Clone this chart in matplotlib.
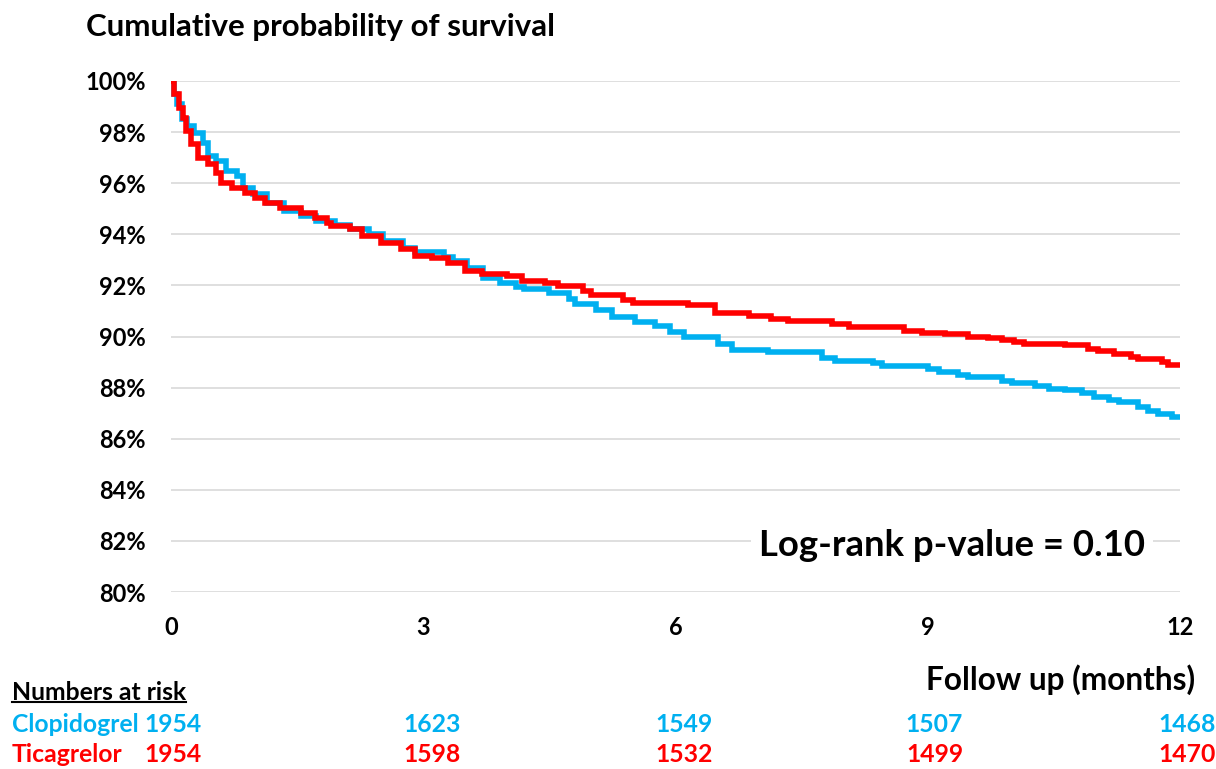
import matplotlib
matplotlib.use("Agg")
import matplotlib.pyplot as plt
from matplotlib.ticker import FuncFormatter
from matplotlib.lines import Line2D
import matplotlib.transforms as mtransforms

# Survival curves (months, % surviving; step starts)
clopi_t = [0, 0.03, 0.07, 0.13, 0.19, 0.27, 0.38, 0.44, 0.54, 0.66, 0.78, 0.86, 0.98,
           1.14, 1.34, 1.55, 1.73, 1.95, 2.13, 2.35, 2.52, 2.76, 2.9, 3.25, 3.35, 3.52,
           3.71, 3.91, 4.1, 4.2, 4.5, 4.73, 4.8, 5.05, 5.24, 5.52, 5.76, 5.93, 6.1, 6.5,
           6.67, 7.1, 7.74, 7.9, 8.35, 8.45, 9.0, 9.13, 9.36, 9.48, 9.88, 10.0, 10.27,
           10.44, 10.63, 10.83, 10.98, 11.15, 11.27, 11.5, 11.62, 11.74, 11.9, 12.0]
clopi_s = [100, 99.5, 99.1, 98.5, 98.24, 97.98, 97.58, 97.06, 96.87, 96.48, 96.28, 95.82,
           95.56, 95.23, 94.91, 94.7, 94.52, 94.35, 94.19, 94.0, 93.73, 93.47, 93.3, 93.1,
           92.95, 92.69, 92.3, 92.1, 91.95, 91.87, 91.7, 91.48, 91.28, 91.02, 90.76, 90.56,
           90.43, 90.17, 89.97, 89.69, 89.48, 89.39, 89.16, 89.06, 88.96, 88.83, 88.71,
           88.61, 88.51, 88.42, 88.26, 88.18, 88.05, 87.96, 87.9, 87.79, 87.64, 87.53,
           87.44, 87.25, 87.08, 86.96, 86.86, 86.86]

ticag_t = [0, 0.04, 0.1, 0.14, 0.18, 0.24, 0.32, 0.44, 0.54, 0.6, 0.72, 0.88, 1.0, 1.12,
           1.3, 1.55, 1.71, 1.85, 1.9, 2.13, 2.27, 2.5, 2.74, 2.9, 3.1, 3.3, 3.5, 3.7, 4.0,
           4.17, 4.45, 4.6, 4.9, 5.0, 5.38, 5.5, 6.15, 6.47, 6.87, 7.14, 7.34, 7.86, 8.06,
           8.72, 8.93, 9.2, 9.48, 9.72, 9.88, 10.03, 10.15, 10.63, 10.91, 11.03, 11.22,
           11.42, 11.5, 11.78, 11.86, 12.0]
ticag_s = [100, 99.48, 98.96, 98.56, 98.04, 97.52, 97.0, 96.74, 96.41, 96.02, 95.82, 95.63,
           95.43, 95.23, 95.04, 94.84, 94.65, 94.45, 94.32, 94.19, 93.93, 93.67, 93.41,
           93.15, 93.08, 92.89, 92.56, 92.43, 92.36, 92.17, 92.09, 91.96, 91.78, 91.61,
           91.44, 91.32, 91.22, 90.93, 90.8, 90.67, 90.59, 90.5, 90.36, 90.23, 90.14,
           90.08, 90.0, 89.94, 89.87, 89.78, 89.71, 89.65, 89.52, 89.43, 89.3, 89.19,
           89.1, 89.0, 88.9, 88.9]

risk_times = [0, 3, 6, 9, 12]
clopi_risk = [1954, 1623, 1549, 1507, 1468]
ticag_risk = [1954, 1598, 1532, 1499, 1470]

BLUE = "#00B0F0"
RED = "#FF0000"

plt.rcParams['font.family'] = ['Lato', 'DejaVu Sans']
plt.rcParams['font.weight'] = 'bold'

fig = plt.figure(figsize=(12.16, 7.69), dpi=100)
ax = fig.add_axes([171 / 1216, 1 - 592 / 769, (1180 - 171) / 1216, (592 - 81) / 769])

ax.plot(clopi_t, clopi_s, drawstyle='steps-post', color=BLUE, lw=4, solid_joinstyle='miter')
ax.plot(ticag_t, ticag_s, drawstyle='steps-post', color=RED, lw=4, solid_joinstyle='miter')

ax.set_xlim(0, 12)
ax.set_ylim(80, 100)
ax.set_xticks(risk_times)
ax.set_yticks(range(80, 101, 2))
ax.yaxis.set_major_formatter(FuncFormatter(lambda v, p: f"{v:.0f}%"))
ax.grid(axis='y', color='#d9d9d9', lw=1.2)
ax.set_axisbelow(True)
for sp in ax.spines.values():
    sp.set_visible(False)
ax.tick_params(length=0, labelsize=17)
ax.tick_params(axis='y', pad=18)
ax.tick_params(axis='x', pad=17)
for lab in ax.get_xticklabels() + ax.get_yticklabels():
    lab.set_fontweight('bold')

fig.text(86 / 1216, 1 - 27 / 769, "Cumulative probability of survival",
         fontsize=22.5, fontweight='bold', va='center', ha='left')

fig.text(952 / 1216, 1 - 545 / 769, "Log-rank p-value = 0.10", fontsize=26.3,
         fontweight='bold', ha='center', va='center',
         bbox=dict(facecolor='white', edgecolor='none', pad=6))

fig.text(1195 / 1216, 1 - 680 / 769, "Follow up (months)", fontsize=22.8,
         fontweight='bold', ha='right', va='center')

# numbers at risk table
hdr = fig.text(12 / 1216, 1 - 692 / 769, "Numbers at risk", fontsize=17.8,
               fontweight='bold', ha='left', va='center')
fig.text(12 / 1216, 1 - 724 / 769, "Clopidogrel", fontsize=17.8, fontweight='bold',
         color=BLUE, ha='left', va='center')
fig.text(12 / 1216, 1 - 755 / 769, "Ticagrelor", fontsize=17.8, fontweight='bold',
         color=RED, ha='left', va='center')

col_shift = [0.02, 0.1, 0.1, 0.08, 0.08]
trans = mtransforms.blended_transform_factory(ax.transData, fig.transFigure)
for t, dx, n in zip(risk_times, col_shift, clopi_risk):
    ax.text(t + dx, 1 - 724 / 769, str(n), transform=trans, fontsize=17.8,
            fontweight='bold', color=BLUE, ha='center', va='center', clip_on=False)
for t, dx, n in zip(risk_times, col_shift, ticag_risk):
    ax.text(t + dx, 1 - 755 / 769, str(n), transform=trans, fontsize=17.8,
            fontweight='bold', color=RED, ha='center', va='center', clip_on=False)

# underline the table header
fig.canvas.draw()
bb = hdr.get_window_extent().transformed(fig.transFigure.inverted())
fig.add_artist(Line2D([bb.x0, bb.x1], [bb.y0 + 0.002, bb.y0 + 0.002],
                      color='black', lw=1.5, transform=fig.transFigure))

fig.savefig("out.png", dpi=100)
